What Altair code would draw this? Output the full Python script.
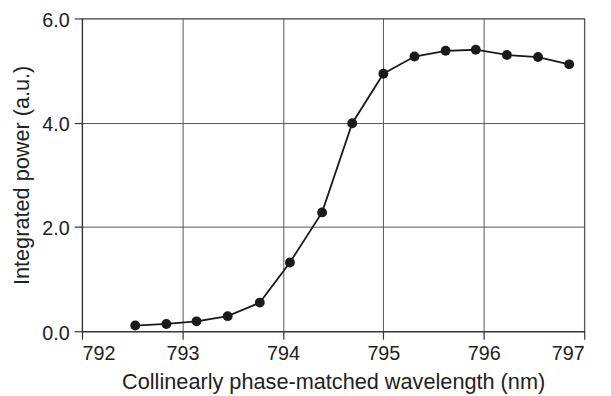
import altair as alt
import pandas as pd

wavelength = [792.53, 792.84, 793.14, 793.45, 793.77, 794.07, 794.39, 794.69,
              795.00, 795.31, 795.62, 795.92, 796.23, 796.54, 796.85]
power = [0.11, 0.14, 0.19, 0.29, 0.55, 1.32, 2.28, 3.99,
         4.94, 5.27, 5.38, 5.40, 5.30, 5.26, 5.12]
x_ticks = [792, 793, 794, 795, 796, 797]
y_ticks = [0, 2, 4, 6]

df = pd.DataFrame({"wl": wavelength, "p": power})

FONT = "Liberation Sans"

x = alt.X("wl:Q", scale=alt.Scale(domain=[792, 797], nice=False, zero=False),
          axis=alt.Axis(title="Collinearly phase-matched wavelength (nm)",
                        values=x_ticks, format="d",
                        titleY=58, titleBaseline="alphabetic"))
y = alt.Y("p:Q", scale=alt.Scale(domain=[0, 6], nice=False),
          axis=alt.Axis(title="Integrated power (a.u.)",
                        values=y_ticks, format=".1f", labelOffset=2,
                        titleX=-54, titleBaseline="alphabetic"))

base = alt.Chart(df).encode(x=x, y=y)
line = base.mark_line(color="#1a1a1a", strokeWidth=1.8)
pts = base.mark_point(filled=True, color="#1a1a1a", size=100, opacity=1)

chart = (line + pts).properties(
    width=509, height=317,
    autosize=alt.AutoSizeParams(type="none"),
    padding={"left": 75, "top": 8, "right": 19, "bottom": 63},
).configure_view(stroke="#666666", strokeWidth=1.2).configure_axis(
    grid=True, gridColor="#555555", gridWidth=1, gridOpacity=1,
    domainColor="#333333", domainWidth=1.2,
    tickColor="#333333", tickSize=8, tickWidth=1.2,
    labelFont=FONT, labelFontSize=20, labelColor="#222222", labelPadding=5,
    titleFont=FONT, titleFontSize=22, titleColor="#222222", titleFontWeight="normal",
)

chart.save("out.html", embed_options={"renderer": "svg", "actions": False})
